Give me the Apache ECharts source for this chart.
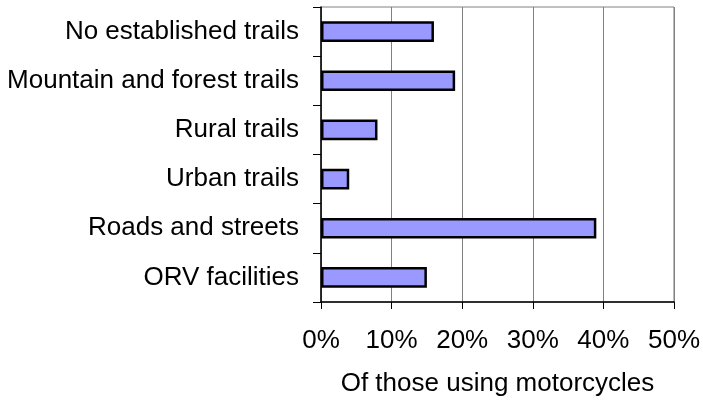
<!DOCTYPE html>
<html>
<head>
<meta charset="utf-8">
<script src="https://cdn.jsdelivr.net/npm/echarts@6/dist/echarts.min.js"></script>
<style>
  html, body { margin: 0; padding: 0; background: #fff; }
  #chart { width: 703px; height: 402px; }
</style>
</head>
<body>
<div id="chart"></div>
<script>
// categories from top to bottom
const categorias = [
    'No established trails',
    'Mountain and forest trails',
    'Rural trails',
    'Urban trails',
    'Roads and streets',
    'ORV facilities'
];
// percent of motorcycle users
const valores = [16, 19, 8, 4, 39, 15];
const ticksX = [0, 10, 20, 30, 40, 50];

const myChart = echarts.init(document.getElementById('chart'));

const fuente = 'Liberation Sans, Arial, sans-serif';

const option = {
    animation: false,
    backgroundColor: '#ffffff',
    grid: {
        left: 321,
        top: 7,
        width: 354,
        height: 295,
        show: true,
        borderColor: '#808080',
        borderWidth: 1
    },
    xAxis: {
        type: 'value',
        min: ticksX[0],
        max: ticksX[ticksX.length - 1],
        interval: 10,
        name: 'Of those using motorcycles',
        nameLocation: 'middle',
        nameGap: 69,
        nameTextStyle: { fontFamily: fuente, fontSize: 26, color: '#000' },
        axisLine: { show: true, lineStyle: { color: '#000', width: 1.5 } },
        axisTick: { show: true, length: 7, lineStyle: { color: '#000' } },
        axisLabel: {
            formatter: '{value}%',
            margin: 26,
            fontFamily: fuente,
            fontSize: 26,
            color: '#000'
        },
        splitLine: { show: true, lineStyle: { color: '#808080', width: 1 } }
    },
    yAxis: {
        type: 'category',
        data: categorias,
        inverse: true,
        axisLine: { show: true, lineStyle: { color: '#000', width: 1.5 } },
        axisTick: { show: true, length: 8, lineStyle: { color: '#000' } },
        axisLabel: {
            margin: 22,
            fontFamily: fuente,
            fontSize: 26,
            color: '#000'
        },
        splitLine: { show: false }
    },
    series: [
        {
            type: 'bar',
            data: valores,
            barCategoryGap: '58%',
            itemStyle: {
                color: '#9999ff',
                borderColor: '#000',
                borderWidth: 2.5
            }
        }
    ]
};

option && myChart.setOption(option);
</script>
</body>
</html>
